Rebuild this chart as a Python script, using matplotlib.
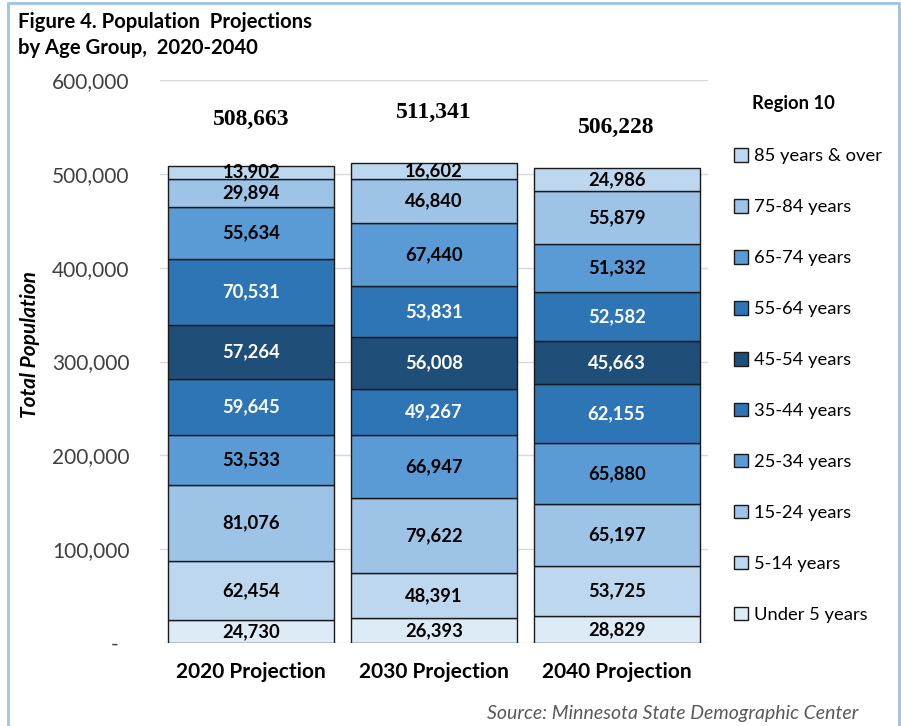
import matplotlib.pyplot as plt
import numpy as np
from matplotlib.patches import Rectangle

# Data (bottom to top)
projections = ['2020 Projection', '2030 Projection', '2040 Projection']
age_groups = ['Under 5 years', '5-14 years', '15-24 years', '25-34 years', '35-44 years',
              '45-54 years', '55-64 years', '65-74 years', '75-84 years', '85 years & over']
under5 = [24730, 26393, 28829]
age5_14 = [62454, 48391, 53725]
age15_24 = [81076, 79622, 65197]
age25_34 = [53533, 66947, 65880]
age35_44 = [59645, 49267, 62155]
age45_54 = [57264, 56008, 45663]
age55_64 = [70531, 53831, 52582]
age65_74 = [55634, 67440, 51332]
age75_84 = [29894, 46840, 55879]
age85_over = [13902, 16602, 24986]
totals = [508663, 511341, 506228]

series = [under5, age5_14, age15_24, age25_34, age35_44,
          age45_54, age55_64, age65_74, age75_84, age85_over]
colors = ['#DDEBF7', '#BDD7EE', '#9DC3E6', '#5B9BD5', '#2E75B6',
          '#1F4E79', '#2E75B6', '#5B9BD5', '#9DC3E6', '#BDD7EE']
text_colors = ['black', 'black', 'black', 'black', 'white',
               'white', 'white', 'black', 'black', 'black']

plt.rcParams['font.family'] = ['Lato', 'DejaVu Sans']

fig = plt.figure(figsize=(9.01, 7.26), dpi=100)
ax = fig.add_axes([160 / 901, 83 / 726, 548 / 901, 563 / 726])

x = np.arange(len(projections))
bottom = np.zeros(len(projections))
handles = []
for vals, col, tcol, name in zip(series, colors, text_colors, age_groups):
    bars = ax.bar(x, vals, 0.91, bottom=bottom, color=col, edgecolor='#1a1a1a',
                  linewidth=1.0, label=name, zorder=3)
    handles.append(bars)
    for xi, b, v in zip(x, bottom, vals):
        ax.text(xi, b + v / 2, f'{v:,}', ha='center', va='center', color=tcol,
                fontsize=13.2, fontweight='bold', zorder=4)
    bottom += np.array(vals)

# totals above bars
total_offsets = [49000, 54000, 43000]
for xi, t, off in zip(x, totals, total_offsets):
    ax.text(xi, t + off, f'{t:,}', ha='center', va='center', fontsize=17,
            fontweight='bold', family='Liberation Serif')

ax.set_xlim(-0.5, 2.5)
ax.set_ylim(0, 600000)
ax.set_yticks(np.arange(0, 600001, 100000))
ax.set_yticklabels(['-  '] + [f'{v:,}' for v in range(100000, 600001, 100000)],
                   fontsize=15, color='#404040')
ax.tick_params(axis='y', length=0, pad=22)
ax.tick_params(axis='x', length=0, pad=14)
ax.set_xticks(x)
ax.set_xticklabels(projections, fontsize=15, fontweight='bold')
ax.grid(axis='y', color='#D9D9D9', linewidth=1.0, zorder=0)
for s in ax.spines.values():
    s.set_visible(False)
ax.set_ylabel('Total Population', fontsize=15, fontstyle='italic', fontweight='bold')
ax.yaxis.set_label_coords(-120 / 548, 0.53)

# legend (top entry first)
leg = fig.legend(handles[::-1], age_groups[::-1], loc='upper left',
                 bbox_to_anchor=(727 / 901, 1 - 141 / 726), frameon=False,
                 fontsize=13.2, labelspacing=1.9, handlelength=0.75, handleheight=0.75,
                 handletextpad=0.35, borderaxespad=0)
fig.text(752 / 901, 1 - 104 / 726, 'Region 10', fontsize=13.2, fontweight='bold',
         va='center', ha='left')

# title and source
fig.text(18 / 901, 1 - 22 / 726, 'Figure 4. Population  Projections', fontsize=14.6,
         fontweight='bold', va='center')
fig.text(18 / 901, 1 - 48 / 726, 'by Age Group,  2020-2040', fontsize=14.6,
         fontweight='bold', va='center')
fig.text(858 / 901, 1 - 714 / 726, 'Source: Minnesota State Demographic Center',
         fontsize=14, fontstyle='italic', color='#595959', ha='right', va='center')

# chart frame
fig.patches.append(Rectangle((8 / 901, -0.01), 891 / 901, 1 - 3 / 726 + 0.01,
                             transform=fig.transFigure, fill=False,
                             edgecolor='#9DC3E6', linewidth=2))

fig.savefig('out.png', dpi=100)
